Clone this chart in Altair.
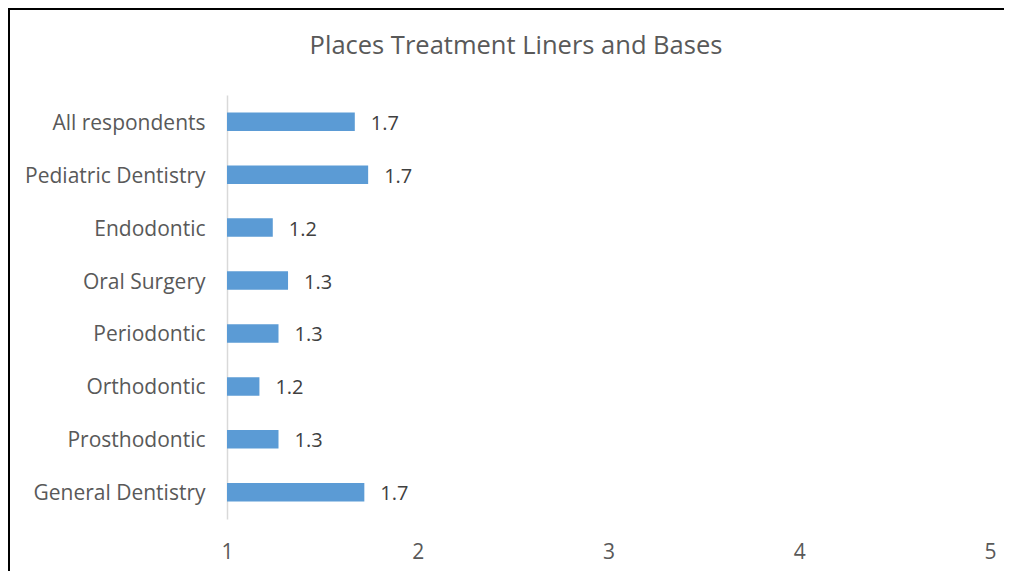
import altair as alt
import pandas as pd

categories = ["All respondents", "Pediatric Dentistry", "Endodontic", "Oral Surgery",
              "Periodontic", "Orthodontic", "Prosthodontic", "General Dentistry"]
values = [1.67, 1.74, 1.24, 1.32, 1.27, 1.17, 1.27, 1.72]
x_ticks = [1, 2, 3, 4, 5]
chart_title = "Places Treatment Liners and Bases"

df = pd.DataFrame({"category": categories, "value": values})

FONT = "Open Sans"
W, H = 763, 424
PAD = {"left": 219, "top": 87, "right": 14, "bottom": 52}

y_enc = alt.Y("category:N", sort=categories,
              scale=alt.Scale(paddingInner=0.65, paddingOuter=0.33),
              axis=alt.Axis(title=None, ticks=False, domainColor="#d9d9d9", domainWidth=1.5,
                            labelFont=FONT, labelFontSize=21, labelColor="#595959",
                            labelPadding=22, labelLimit=0, labelOffset=2, grid=False))
x_scale = alt.Scale(domain=[1, 5], zero=False, nice=False)

bars = alt.Chart(df).mark_bar(color="#5B9BD5").encode(
    x=alt.X("value:Q", scale=x_scale,
            axis=alt.Axis(title=None, values=x_ticks, domain=False, ticks=False, grid=False,
                          labelFont=FONT, labelFontSize=21, labelColor="#595959",
                          labelPadding=22, labelFlush=False, format="d")),
    x2=alt.datum(1),
    y=y_enc,
)

labels = alt.Chart(df).mark_text(align="left", baseline="middle", dx=16, dy=2,
                                 font=FONT, fontSize=20, color="#404040").encode(
    x=alt.X("value:Q", scale=x_scale),
    y=alt.Y("category:N", sort=categories),
    text=alt.Text("value:Q", format=".1f"),
)

title = alt.Chart(pd.DataFrame({"t": [chart_title]})).mark_text(
    align="center", baseline="middle", font=FONT, fontSize=25.5, color="#595959").encode(
    x=alt.value(289), y=alt.value(-49), text="t:N")

left_border = alt.Chart(df).mark_rule(color="black", strokeWidth=2).encode(
    x=alt.value(-218), y=alt.value(-87), y2=alt.value(H + PAD["bottom"]))
top_border = alt.Chart(df).mark_rule(color="black", strokeWidth=2).encode(
    x=alt.value(-219), x2=alt.value(W + PAD["right"]), y=alt.value(-86))

chart = alt.layer(bars, labels, title, left_border, top_border).properties(
    width=W, height=H,
    autosize=alt.AutoSizeParams(type="none"),
    padding=PAD,
).configure_view(stroke=None)

chart.save("out.html", embed_options={"renderer": "svg", "actions": False})
